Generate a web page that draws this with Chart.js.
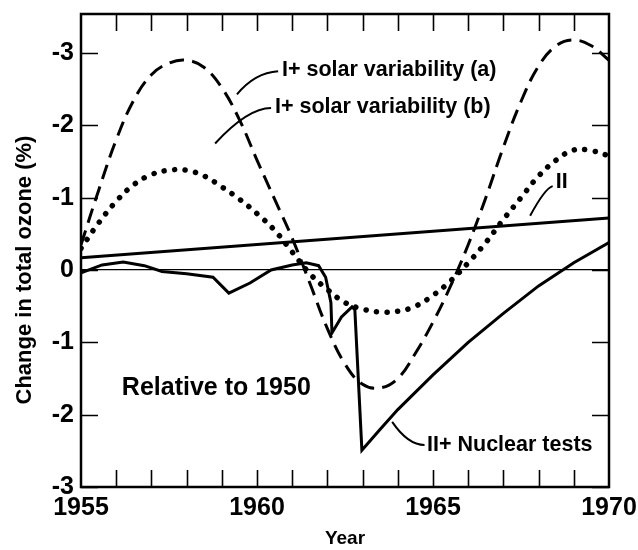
<!DOCTYPE html>
<html>
<head>
<meta charset="utf-8">
<script src="https://cdn.jsdelivr.net/npm/chart.js@4"></script>
<style>
html,body{margin:0;padding:0;background:#fff;}
#wrap{width:638px;height:550px;position:relative;}
</style>
</head>
<body>
<div id="wrap"><canvas id="c" width="638" height="550"></canvas></div>
<script>
// ---- data ----
const years = [1955,1955.5,1956,1956.5,1957,1957.5,1958,1958.5,1959,1959.5,1960,1960.5,1961,1961.5,1962,1962.5,1963,1963.5,1964,1964.5,1965,1965.5,1966,1966.5,1967,1967.5,1968,1968.5,1969,1969.5,1970];
const solarA = [0.35,1.1,1.8,2.35,2.7,2.86,2.9,2.8,2.52,2.08,1.52,0.98,0.44,-0.18,-0.81,-1.3,-1.58,-1.63,-1.5,-1.15,-0.72,-0.22,0.35,1.0,1.7,2.33,2.82,3.1,3.18,3.1,2.9];
const solarB = [0.3,0.65,0.95,1.18,1.32,1.38,1.38,1.3,1.15,0.98,0.78,0.55,0.25,-0.05,-0.27,-0.45,-0.54,-0.58,-0.57,-0.5,-0.35,-0.15,0.1,0.38,0.7,1.0,1.3,1.52,1.66,1.65,1.58];
const trendYears = [1955,1970];
const trendII = [0.17,0.72];
const nuclearYears = [1955,1955.6,1956.2,1956.8,1957.3,1958,1958.75,1959.2,1959.8,1960.4,1961,1961.4,1961.75,1961.95,1962.1,1962.13,1962.4,1962.7,1962.78,1962.98,1963.5,1964,1965,1966,1967,1968,1969,1970];
const nuclearII = [-0.04,0.07,0.11,0.06,-0.02,-0.05,-0.1,-0.32,-0.18,0,0.07,0.1,0.06,-0.1,-0.45,-0.87,-0.65,-0.51,-0.55,-2.49,-2.2,-1.93,-1.45,-1.0,-0.6,-0.22,0.1,0.38];
const yTickValues = [-3,-2,-1,0,1,2,3];
const yTickLabels = ['-3','-2','-1','0','-1','-2','-3'];
const xTickValues = [1955,1960,1965,1970];
const minorYears = [1956,1957,1958,1959,1960,1961,1962,1963,1964,1965,1966,1967,1968,1969];
const yTitle = 'Change in total ozone (%)';

const pts = (xs, ys) => xs.map((x, i) => ({x: x, y: ys[i]}));
const FONT = "'Liberation Sans', Arial, sans-serif";

const frame = {
  id: 'frame',
  afterDraw(chart) {
    const ctx = chart.ctx, a = chart.chartArea;
    const xs = chart.scales.x, ys = chart.scales.y;
    ctx.save();
    ctx.strokeStyle = '#000';
    // inner ticks
    ctx.lineWidth = 1.6;
    const TL = 17;
    minorYears.forEach(yr => {
      const px = Math.round(xs.getPixelForValue(yr)) + 0.5;
      ctx.beginPath();
      ctx.moveTo(px, a.bottom); ctx.lineTo(px, a.bottom - TL);
      ctx.moveTo(px, a.top); ctx.lineTo(px, a.top + TL);
      ctx.stroke();
    });
    yTickValues.forEach(v => {
      const py = Math.round(ys.getPixelForValue(v)) + 0.5;
      ctx.beginPath();
      ctx.moveTo(a.left, py); ctx.lineTo(a.left + TL, py);
      ctx.moveTo(a.right, py); ctx.lineTo(a.right - TL, py);
      ctx.stroke();
    });
    // box
    ctx.lineWidth = 2.5;
    ctx.strokeRect(a.left, a.top, a.right - a.left, a.bottom - a.top);

    // y-axis title (placed slightly below the plot centre, as in the original)
    ctx.save();
    ctx.fillStyle = '#000';
    ctx.font = 'bold 22px ' + FONT;
    ctx.textAlign = 'center';
    ctx.textBaseline = 'middle';
    ctx.translate(25, ys.getPixelForValue(0));
    ctx.rotate(-Math.PI / 2);
    ctx.fillText(yTitle, 0, 0);
    ctx.restore();

    // annotations
    const P = (x, y) => [xs.getPixelForValue(x), ys.getPixelForValue(y)];
    ctx.fillStyle = '#000';
    ctx.textBaseline = 'middle';
    ctx.textAlign = 'left';
    ctx.font = 'bold 21.5px ' + FONT;
    const label = (txt, x, y) => { const p = P(x, y); ctx.fillText(txt, p[0], p[1]); };
    label('I+ solar variability (a)', 1960.71, 2.76);
    label('I+ solar variability (b)', 1960.51, 2.25);
    label('II', 1968.49, 1.22);
    label('II+ Nuclear tests', 1964.83, -2.42);
    ctx.font = 'bold 25px ' + FONT;
    label('Relative to 1950', 1956.16, -1.63);

    ctx.lineWidth = 2;
    const leader = (p0, p1, p2) => {
      const a0 = P(p0[0], p0[1]), a1 = P(p1[0], p1[1]), a2 = P(p2[0], p2[1]);
      ctx.beginPath();
      ctx.moveTo(a0[0], a0[1]);
      ctx.quadraticCurveTo(a1[0], a1[1], a2[0], a2[1]);
      ctx.stroke();
    };
    leader([1960.6, 2.75], [1959.94, 2.73], [1959.43, 2.43]);
    leader([1960.4, 2.24], [1959.74, 2.24], [1958.81, 1.75]);
    leader([1968.4, 1.16], [1968.18, 1.13], [1967.76, 0.75]);
    leader([1964.76, -2.42], [1964.29, -2.42], [1963.84, -2.1]);
    ctx.restore();
  }
};

new Chart(document.getElementById('c'), {
  type: 'line',
  data: {
    datasets: [
      {label: 'I+ solar variability (a)', data: pts(years, solarA), borderColor: '#000', borderWidth: 3, borderDash: [15, 8], pointRadius: 0, tension: 0.4, fill: false},
      {label: 'I+ solar variability (b)', data: pts(years, solarB), borderColor: '#000', borderWidth: 5.5, borderDash: [0.1, 10.5], borderCapStyle: 'round', pointRadius: 0, tension: 0.4, fill: false},
      {label: 'II', data: pts(trendYears, trendII), borderColor: '#000', borderWidth: 3, pointRadius: 0, fill: false},
      {label: 'II+ Nuclear tests', data: pts(nuclearYears, nuclearII), borderColor: '#000', borderWidth: 3, pointRadius: 0, tension: 0, fill: false}
    ]
  },
  options: {
    responsive: false,
    animation: false,
    layout: {padding: {top: 14, right: 29, left: 0, bottom: 0}},
    plugins: {legend: {display: false}, tooltip: {enabled: false}},
    scales: {
      x: {
        type: 'linear', min: 1955, max: 1970,
        afterBuildTicks: s => { s.ticks = xTickValues.map(v => ({value: v})); },
        afterFit: s => { s.height = 63; s.paddingLeft = 0; s.paddingRight = 0; },
        border: {display: false},
        grid: {display: false, drawTicks: false},
        ticks: {color: '#000', font: {family: FONT, size: 25, weight: 'bold'}, padding: 6, maxRotation: 0, callback: v => String(v)},
        title: {display: true, text: 'Year', color: '#000', font: {family: FONT, size: 19, weight: 'bold'}, padding: {top: 0, bottom: 0}}
      },
      y: {
        type: 'linear', min: -3, max: 3.54,
        afterBuildTicks: s => { s.ticks = yTickValues.map(v => ({value: v})); },
        afterFit: s => { s.width = 81; s.paddingTop = 0; s.paddingBottom = 0; },
        border: {display: false},
        grid: {drawTicks: false, color: c => (c.tick && c.tick.value === 0 ? '#000' : 'rgba(0,0,0,0)'), lineWidth: 1.2},
        ticks: {color: '#000', font: {family: FONT, size: 25, weight: 'bold'}, padding: 7,
          callback: v => yTickLabels[yTickValues.indexOf(v)]},
        title: {display: false}
      }
    }
  },
  plugins: [frame]
});
</script>
</body>
</html>
